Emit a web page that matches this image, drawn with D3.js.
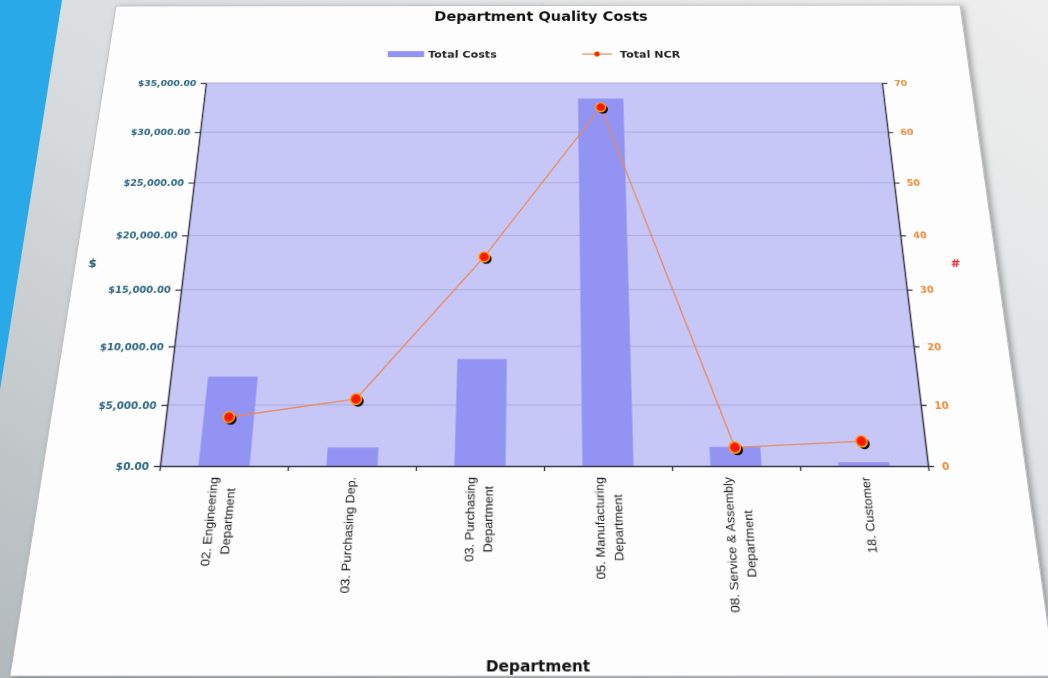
<!DOCTYPE html>
<html>
<head>
<meta charset="utf-8">
<script src="https://cdn.jsdelivr.net/npm/d3@7"></script>
<style>
  html, body { margin: 0; padding: 0; }
  body { width: 1048px; height: 678px; overflow: hidden; position: relative; background: #dfe2e3; }
  #bg { position: absolute; left: 0; top: 0; }
  #chart { position: absolute; left: 0; top: 0; transform-origin: 0 0; overflow: visible; }
</style>
</head>
<body>
<svg id="bg" width="1048" height="678"></svg>
<svg id="chart" width="1200" height="900"></svg>
<script>
// Data
const departments = [
  "02. Engineering\nDepartment",
  "03. Purchasing Dep.",
  "03. Purchasing\nDepartment",
  "05. Manufacturing\nDepartment",
  "08. Service & Assembly\nDepartment",
  "18. Customer"
];
const totalCosts = [7400, 1500, 8900, 33400, 1550, 300];
const totalNCR = [8, 11, 36, 65, 3, 4];
const costTicks = [0, 5000, 10000, 15000, 20000, 25000, 30000, 35000];
const ncrTicks = [0, 10, 20, 30, 40, 50, 60, 70];
const seriesNames = ["Total Costs", "Total NCR"];

const colors = {
  plot: "#c7c7f7", bar: "#9393f4", grid: "#a9a8d6", axis: "#3a3a48",
  line: "#e8895c", dot: "#ff1800", ring: "#f5a01e",
  left: "#2a6580", right: "#ef8a3a"
};
const verdana = "'DejaVu Sans', Verdana, sans-serif";
const arial = "'Liberation Sans', Arial, sans-serif";

// flat chart geometry (inside #chart, before the photo's tilt)
const margin = {left: 200, top: 150};
const width = 768, height = 435;

// where things land in the photo (screen pixels)
const plotQuad = [[206, 83], [882, 83], [928, 466], [160, 466]];
const paperQuad = [[116, 6], [960, 5], [1055, 676], [10, 676]];

// solve the 3x3 projective map src -> dst from four point pairs
function homography(src, dst) {
  const A = [], b = [];
  for (let i = 0; i < 4; i++) {
    const [x, y] = src[i], [u, v] = dst[i];
    A.push([x, y, 1, 0, 0, 0, -x * u, -y * u]); b.push(u);
    A.push([0, 0, 0, x, y, 1, -x * v, -y * v]); b.push(v);
  }
  for (let c = 0; c < 8; c++) {
    let p = c;
    for (let r = c + 1; r < 8; r++) if (Math.abs(A[r][c]) > Math.abs(A[p][c])) p = r;
    [A[c], A[p]] = [A[p], A[c]];
    [b[c], b[p]] = [b[p], b[c]];
    for (let r = 0; r < 8; r++) {
      if (r === c) continue;
      const f = A[r][c] / A[c][c];
      for (let k = c; k < 8; k++) A[r][k] -= f * A[c][k];
      b[r] -= f * b[c];
    }
  }
  return b.map((v, i) => v / A[i][i]);
}
function project(h, [x, y]) {
  const w = h[6] * x + h[7] * y + 1;
  return [(h[0] * x + h[1] * y + h[2]) / w, (h[3] * x + h[4] * y + h[5]) / w];
}

const flatCorners = [
  [margin.left, margin.top], [margin.left + width, margin.top],
  [margin.left + width, margin.top + height], [margin.left, margin.top + height]
];
const H = homography(flatCorners, plotQuad);
const Hinv = homography(plotQuad, flatCorners);
// screen point -> flat svg point
const flat = p => project(Hinv, p);

// ---------- background: grey wall, blue stripe, the paper ----------
const bg = d3.select("#bg");
const defs = bg.append("defs");
const grad = defs.append("linearGradient").attr("id", "wall")
  .attr("x1", 0).attr("y1", 1).attr("x2", 1).attr("y2", 0);
grad.append("stop").attr("offset", 0).attr("stop-color", "#b2b9bc");
grad.append("stop").attr("offset", 0.45).attr("stop-color", "#d8dbdd");
grad.append("stop").attr("offset", 1).attr("stop-color", "#eeeeee");
const shadow = defs.append("filter").attr("id", "shadow")
  .attr("x", -0.05).attr("y", -0.05).attr("width", 1.1).attr("height", 1.1);
shadow.append("feDropShadow").attr("dx", 3).attr("dy", 2)
  .attr("stdDeviation", 3).attr("flood-color", "#000").attr("flood-opacity", 0.35);

bg.append("rect").attr("width", 1048).attr("height", 678).attr("fill", "url(#wall)");
bg.append("polygon").attr("points", "0,0 62,0 0,390").attr("fill", "#2aa9e9");
bg.append("polygon")
  .attr("points", paperQuad.map(p => p.join(",")).join(" "))
  .attr("fill", "#fdfdfd")
  .attr("stroke", "#b9b9b9").attr("stroke-width", 0.8)
  .attr("filter", "url(#shadow)");

// ---------- the chart, drawn flat then tilted ----------
const svg = d3.select("#chart")
  .style("font-family", verdana)
  .style("transform", `matrix3d(${H[0]},${H[3]},0,${H[6]},${H[1]},${H[4]},0,${H[7]},0,0,1,0,${H[2]},${H[5]},0,1)`);

const g = svg.append("g")
  .attr("transform", `translate(${margin.left},${margin.top})`);

const x = d3.scaleBand().domain(departments).range([0, width])
  .paddingInner(0.6).paddingOuter(0.3);
const xEdges = d3.scaleLinear().domain([0, departments.length]).range([0, width]);
const yCost = d3.scaleLinear().domain([0, 35000]).range([height, 0]);
const yNCR = d3.scaleLinear().domain([0, 70]).range([height, 0]);

// plot area
g.append("rect").attr("width", width).attr("height", height).attr("fill", colors.plot);

// gridlines
g.append("g").selectAll("line").data(costTicks.slice(1)).join("line")
  .attr("x1", 0).attr("x2", width)
  .attr("y1", d => yCost(d)).attr("y2", d => yCost(d))
  .attr("stroke", colors.grid).attr("stroke-width", 1);

// bars
g.append("g").selectAll("rect").data(totalCosts).join("rect")
  .attr("x", (d, i) => x(departments[i]))
  .attr("width", x.bandwidth())
  .attr("y", d => yCost(d))
  .attr("height", d => height - yCost(d))
  .attr("fill", colors.bar);

// axes
const styleAxis = (sel, color) => {
  sel.select(".domain").attr("stroke", colors.axis).attr("stroke-width", 1.6);
  sel.selectAll(".tick line").attr("stroke", colors.axis).attr("stroke-width", 1.4);
  sel.selectAll(".tick text").attr("fill", color)
    .style("font-family", verdana)
    .attr("font-weight", "bold").attr("font-size", 10.5);
};

g.append("g")
  .call(d3.axisLeft(yCost).tickValues(costTicks).tickFormat(d3.format("$,.2f"))
    .tickSize(6).tickSizeOuter(0).tickPadding(5))
  .call(s => styleAxis(s, colors.left));

g.append("g")
  .attr("transform", `translate(${width},0)`)
  .call(d3.axisRight(yNCR).tickValues(ncrTicks).tickSize(6).tickSizeOuter(0).tickPadding(8))
  .call(s => styleAxis(s, colors.right));

g.append("g")
  .attr("transform", `translate(0,${height})`)
  .call(d3.axisBottom(xEdges).tickValues(d3.range(0, departments.length + 1))
    .tickFormat("").tickSize(5).tickSizeOuter(0))
  .call(s => styleAxis(s, colors.axis));

// category labels, rotated, lines centred on each other, top-aligned under the axis
const lineH = 18;
const labels = g.append("g").selectAll("g").data(departments).join("g")
  .attr("transform", d => `translate(${x(d) + x.bandwidth() / 2},${height + 11}) rotate(-90)`);
labels.each(function(d) {
  const lines = d.split("\n");
  const grp = d3.select(this);
  const texts = lines.map((t, i) => grp.append("text")
    .attr("y", (i - (lines.length - 1) / 2) * lineH)
    .attr("dy", "0.35em")
    .style("font-family", arial)
    .attr("font-size", 12.3)
    .attr("fill", "#222")
    .attr("text-anchor", "middle")
    .text(t));
  const longest = d3.max(texts, t => t.node().getComputedTextLength());
  texts.forEach(t => t.attr("x", -longest / 2));
});

// NCR line and markers
const line = d3.line()
  .x((d, i) => x(departments[i]) + x.bandwidth() / 2)
  .y(d => yNCR(d));
g.append("path").datum(totalNCR)
  .attr("d", line).attr("fill", "none")
  .attr("stroke", colors.line).attr("stroke-width", 1.4);

const dots = g.append("g").selectAll("g").data(totalNCR).join("g")
  .attr("transform", (d, i) => `translate(${x(departments[i]) + x.bandwidth() / 2},${yNCR(d)})`);
dots.append("circle").attr("cx", 2.4).attr("cy", 2.4).attr("r", 5.6).attr("fill", "#111");
dots.append("circle").attr("r", 5.6)
  .attr("fill", colors.dot).attr("stroke", colors.ring).attr("stroke-width", 1.6);

// ---------- titles and legend, anchored at their spots on the paper ----------
const addText = (p, txt, size, color, anchor = "middle") => {
  const [fx, fy] = flat(p);
  return svg.append("text").attr("x", fx).attr("y", fy)
    .attr("text-anchor", anchor).attr("font-weight", "bold")
    .attr("font-size", size).attr("fill", color).text(txt);
};

addText([541, 20.5], "Department Quality Costs", 17, "#111");
addText([538, 671], "Department", 14.5, "#111");
addText([92, 267], "$", 13, "#1f5a76");
addText([956, 267], "#", 13, "#e8262e");

// legend
const sw0 = flat([388, 51]), sw1 = flat([424, 57]);
svg.append("rect")
  .attr("x", sw0[0]).attr("y", sw0[1])
  .attr("width", sw1[0] - sw0[0]).attr("height", sw1[1] - sw0[1])
  .attr("fill", colors.bar);
addText([428, 57.5], seriesNames[0], 12.8, "#222", "start");

const l0 = flat([582, 54]), l1 = flat([612, 54]);
svg.append("line")
  .attr("x1", l0[0]).attr("y1", l0[1]).attr("x2", l1[0]).attr("y2", l1[1])
  .attr("stroke", colors.line).attr("stroke-width", 1.4);
svg.append("circle")
  .attr("cx", (l0[0] + l1[0]) / 2).attr("cy", l0[1]).attr("r", 3.2)
  .attr("fill", colors.dot).attr("stroke", colors.ring).attr("stroke-width", 1);
addText([620, 57.5], seriesNames[1], 12.8, "#222", "start");
</script>
</body>
</html>
